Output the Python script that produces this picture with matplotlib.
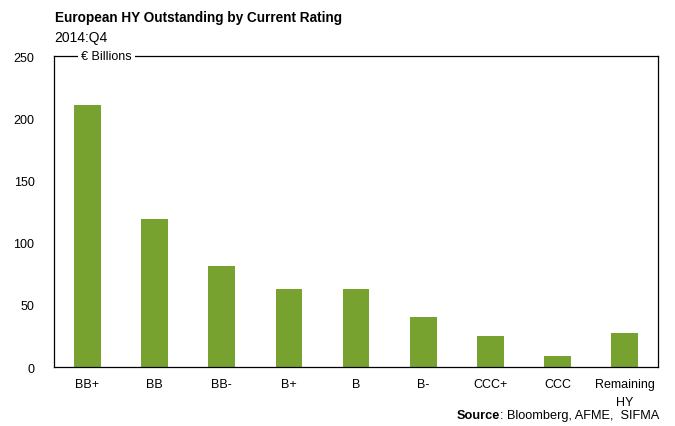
import numpy as np
import matplotlib.pyplot as plt

plt.rcParams['font.family'] = ['Liberation Sans', 'DejaVu Sans']

# data
ratings = ['BB+', 'BB', 'BB-', 'B+', 'B', 'B-', 'CCC+', 'CCC', 'Remaining\nHY']
outstanding = [211, 119, 81, 63, 63, 40, 25, 9, 27]

fig = plt.figure(figsize=(6.75, 4.27), dpi=100)
ax = fig.add_axes([0.08, 0.138, 0.895, 0.7285])

x = np.arange(len(ratings))
ax.bar(x, outstanding, width=0.4, color='#78A22F')

ax.set_xlim(-0.5, len(ratings) - 0.5)
ax.set_ylim(0, 250)
ax.set_yticks(np.arange(0, 251, 50))
ax.set_xticks(x)
ax.set_xticklabels(ratings, fontsize=9, linespacing=1.6)
ax.tick_params(axis='both', length=0, labelsize=9)
ax.tick_params(axis='y', pad=14)
ax.tick_params(axis='x', pad=8)
for s in ax.spines.values():
    s.set_linewidth(0.9)
    s.set_color('black')

ax.text(0.045, 1.0, '€ Billions', transform=ax.transAxes, fontsize=9,
        va='center', ha='left',
        bbox=dict(facecolor='white', edgecolor='none', pad=2))

fig.text(0.081, 0.957, 'European HY Outstanding by Current Rating',
         fontsize=9.8, fontweight='bold', va='center')
fig.text(0.081, 0.912, '2014:Q4', fontsize=10, va='center')
src = fig.text(0.977, 0.012, ': Bloomberg, AFME,  SIFMA',
               fontsize=9.2, ha='right', va='bottom')
fig.canvas.draw()
bb = src.get_window_extent()
fig.text(bb.x0 / fig.bbox.width, 0.012, 'Source', fontsize=9.2,
         fontweight='bold', ha='right', va='bottom')

fig.savefig('out.png', dpi=100)
